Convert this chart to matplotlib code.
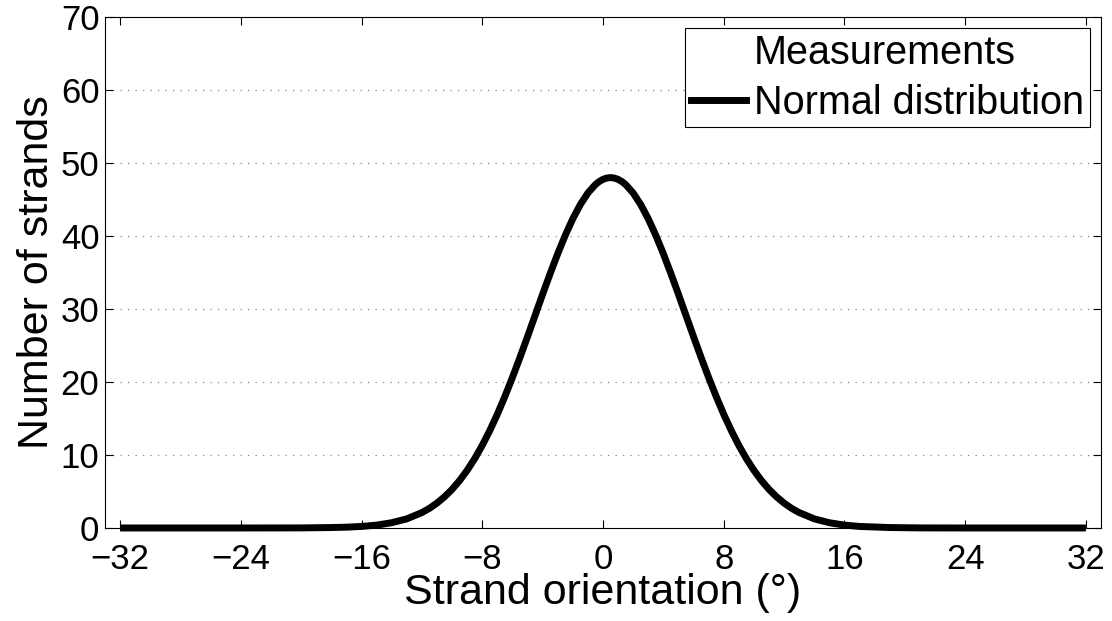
import matplotlib
matplotlib.use('Agg')
import matplotlib.pyplot as plt
from matplotlib.patches import Patch

plt.rcParams['font.family'] = ['Liberation Sans', 'DejaVu Sans']

# strand orientation (deg) and fitted normal curve
orientation = [-32, -28, -24, -20, -18, -17, -16, -15, -14, -13, -12, -11.5, -11, -10.5,
               -10, -9.5, -9, -8.5, -8, -7.5, -7, -6.5, -6, -5.5, -5, -4.5, -4, -3.5,
               -3, -2.5, -2, -1.5, -1, -0.5, -0.25, 0, 0.25, 0.5, 0.75, 1, 1.25, 1.5,
               2, 2.5, 3, 3.5, 4, 4.5, 5, 5.5, 6, 6.5, 7, 7.5, 8, 8.5, 9, 9.5,
               10, 10.5, 11, 11.5, 12, 12.5, 13, 14, 15, 16, 17, 19, 21, 24, 28, 32]
normal_fit = [0.0, 0.0, 0.0, 0.01, 0.06, 0.11, 0.21, 0.39, 0.72, 1.25, 2.11, 2.69, 3.41, 4.27,
              5.29, 6.50, 7.90, 9.50, 11.32, 13.35, 15.58, 18.02, 20.62, 23.37, 26.21, 29.11, 32.02, 34.85,
              37.57, 40.09, 42.36, 44.31, 45.89, 47.05, 47.46, 47.76, 47.94, 48.0, 47.94, 47.76, 47.46, 47.05,
              45.89, 44.31, 42.36, 40.09, 37.57, 34.85, 32.02, 29.11, 26.21, 23.37, 20.62, 18.02, 15.58, 13.35, 11.32, 9.50,
              7.90, 6.50, 5.29, 4.27, 3.41, 2.69, 2.11, 1.25, 0.72, 0.39, 0.21, 0.06, 0.01, 0.0, 0.0, 0.0]

xticks = [-32, -24, -16, -8, 0, 8, 16, 24, 32]
yticks = [0, 10, 20, 30, 40, 50, 60, 70]

fig = plt.figure(figsize=(11.12, 6.21), dpi=100)
ax = fig.add_axes([0.0944, 0.1498, 0.8957, 0.8228])

ax.plot(orientation, normal_fit, color='black', lw=5, clip_on=False, zorder=3,
        solid_capstyle='butt', solid_joinstyle='round')

ax.set_xlim(-33, 33)
ax.set_ylim(0, 70)
ax.set_xticks(xticks)
ax.set_yticks(yticks)
ax.tick_params(direction='in', length=6, width=0.8, labelsize=25,
               top=True, right=True)
ax.tick_params(axis='x', pad=11)
ax.tick_params(axis='y', pad=4)

for y in yticks[1:-1]:
    ax.axhline(y, color='#888888', lw=0.9, dashes=(1, 5), zorder=1)

for s in ax.spines.values():
    s.set_linewidth(0.8)
    s.set_color('black')

ax.set_xlabel('Strand orientation (°)', fontsize=31, labelpad=-2)
ax.set_ylabel('Number of strands', fontsize=31, labelpad=3)

handles = [Patch(facecolor='white', edgecolor='none', label='Measurements'),
           plt.Line2D([], [], color='black', lw=5, label='Normal distribution')]
leg = ax.legend(handles=handles, loc='upper right', fontsize=28.5,
                frameon=True, fancybox=False, edgecolor='black',
                framealpha=1, handlelength=1.4, handletextpad=0.2,
                borderpad=0.15, borderaxespad=0.27, labelspacing=0.3)
leg.get_frame().set_linewidth(0.8)

fig.savefig('out.png', dpi=100)
